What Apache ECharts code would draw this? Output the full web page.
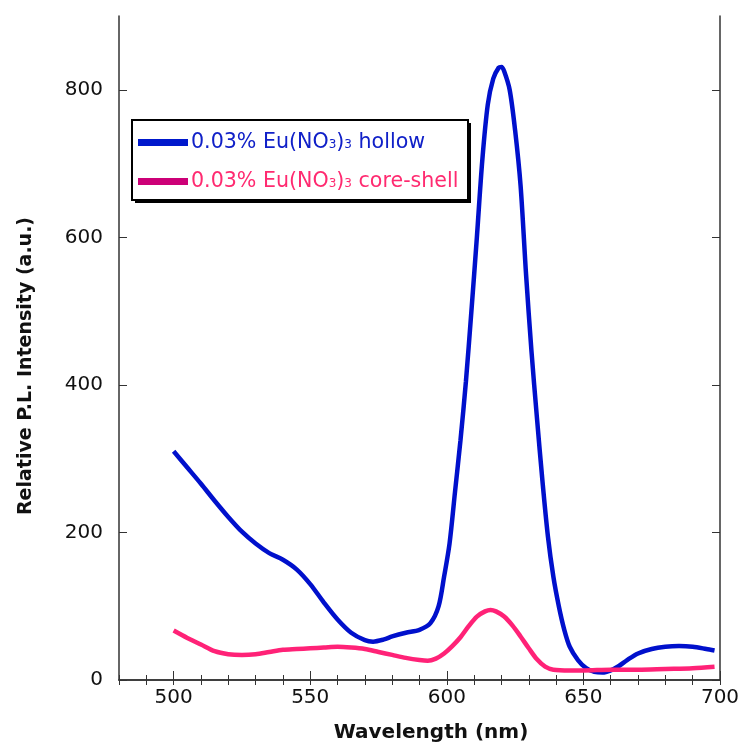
<!DOCTYPE html>
<html>
<head>
<meta charset="utf-8">
<script src="https://cdn.jsdelivr.net/npm/echarts@6/dist/echarts.min.js"></script>
<style>
  html, body { margin: 0; padding: 0; background: #fff; }
  #chart { width: 743px; height: 747px; }
</style>
</head>
<body>
<div id="chart"></div>
<script>
// Wavelength (nm) / intensity
const hollowX = [500, 505, 510, 515, 520, 525, 530, 535, 540, 545, 550, 555, 560, 565, 570, 573, 577, 580, 585, 590, 594, 597, 599, 601, 603, 605, 607, 609, 611, 613, 615, 617, 619, 620, 621, 623, 625, 627, 629, 631, 633, 635, 637, 639, 641, 643, 645, 648, 651, 654, 657, 660, 663, 666, 670, 675, 680, 685, 690, 695, 698]
const hollowY = [310, 288, 266, 243, 221, 201, 185, 172, 163, 150, 130, 105, 82, 64, 54, 52, 55, 59, 64, 68, 77, 100, 140, 185, 255, 325, 405, 500, 600, 705, 780, 815, 830, 831, 825, 800, 745, 670, 550, 445, 355, 270, 195, 140, 100, 68, 45, 27, 16, 11, 10, 13, 19, 27, 36, 42, 45, 46, 45, 42, 40]

const coreX = [500, 505, 510, 515, 520, 525, 530, 535, 540, 545, 550, 555, 560, 565, 570, 575, 580, 585, 590, 593, 596, 599, 602, 605, 608, 611, 614, 616, 618, 621, 624, 627, 630, 633, 636, 639, 645, 650, 660, 670, 680, 690, 698]
const coreY = [67, 57, 48, 39, 35, 34, 35, 38, 41, 42, 43, 44, 45, 44, 42, 38, 34, 30, 27, 26, 29, 36, 46, 58, 73, 86, 93, 95, 93, 86, 74, 59, 43, 28, 18, 14, 13, 13, 14, 14, 15, 16, 18]

const xLabelValues = [500, 550, 600, 650, 700]
const yLabelValues = [0, 200, 400, 600, 800]

const hollowName = '0.03% Eu(NO3)3 hollow'
const coreName = '0.03% Eu(NO3)3 core-shell'

const pairs = (xs, ys) => xs.map((x, i) => [x, ys[i]])

const axisColor = '#333'
const labelFont = { fontFamily: 'DejaVu Sans', fontSize: 20, color: '#111' }

const chart = echarts.init(document.getElementById('chart'))
chart.setOption({
  backgroundColor: '#fff',
  animation: false,
  grid: { left: 119, right: 23, top: 16, bottom: 67 },
  legend: {
    left: 132,
    top: 120,
    z: 10,
    orient: 'vertical',
    icon: 'rect',
    itemWidth: 50,
    itemHeight: 7,
    itemGap: 18,
    padding: [12, 8, 6, 6],
    textStyle: {
      fontFamily: 'DejaVu Sans',
      fontSize: 20.6,
      padding: [0, 0, 0, -2],
      rich: {
        s: { fontFamily: 'DejaVu Sans', fontSize: 12, verticalAlign: 'bottom', padding: [0, 0, 2, 0] }
      }
    },
    formatter: name => name.replace('NO3)3', 'NO{s|3}){s|3}'),
    data: [
      { name: hollowName, itemStyle: { color: '#0018cc' }, textStyle: { color: '#1020c8' } },
      { name: coreName, itemStyle: { color: '#cc0077' }, textStyle: { color: '#ff2a70' } }
    ]
  },
  xAxis: [
    {
      type: 'value', min: 480, max: 700, interval: 10,
      position: 'bottom',
      axisLine: { lineStyle: { color: axisColor, width: 1.5 } },
      axisTick: { inside: true, length: 5, lineStyle: { color: axisColor } },
      axisLabel: { customValues: xLabelValues, margin: 8, ...labelFont },
      splitLine: { show: false }
    },
    {
      type: 'value', min: 480, max: 700, interval: 10,
      position: 'top',
      axisLine: { lineStyle: { color: axisColor, width: 1.5 } },
      axisTick: { inside: true, length: 5, lineStyle: { color: axisColor } },
      axisLabel: { show: false },
      splitLine: { show: false }
    },
    {
      type: 'value', min: 480, max: 700,
      position: 'bottom',
      axisLine: { show: false },
      axisTick: { inside: true, length: 9, customValues: xLabelValues, lineStyle: { color: axisColor } },
      axisLabel: { show: false },
      splitLine: { show: false }
    }
  ],
  yAxis: [
    {
      type: 'value', min: 0, max: 900,
      position: 'left',
      axisLine: { show: true, lineStyle: { color: axisColor, width: 1.5 } },
      axisTick: { show: true, inside: true, length: 8, customValues: yLabelValues, lineStyle: { color: axisColor } },
      axisLabel: { customValues: yLabelValues, margin: 16, ...labelFont },
      splitLine: { show: false }
    },
    {
      type: 'value', min: 0, max: 900,
      position: 'right',
      axisLine: { show: true, lineStyle: { color: axisColor, width: 1.5 } },
      axisTick: { show: true, inside: true, length: 8, customValues: yLabelValues, lineStyle: { color: axisColor } },
      axisLabel: { show: false },
      splitLine: { show: false }
    }
  ],
  graphic: [
    // legend frame with its hard drop shadow
    {
      type: 'rect', z: 5,
      shape: { x: 135, y: 123, width: 336, height: 80 },
      style: { fill: '#000' }
    },
    {
      type: 'rect', z: 6,
      shape: { x: 132, y: 120, width: 336, height: 80 },
      style: { fill: '#fff', stroke: '#000', lineWidth: 2 }
    },
    {
      type: 'text', x: 431, y: 733,
      style: { text: 'Wavelength (nm)', font: 'bold 20px "DejaVu Sans"', fill: '#111', align: 'center', verticalAlign: 'middle' }
    },
    {
      type: 'text', x: 26, y: 366, rotation: Math.PI / 2,
      style: { text: 'Relative P.L. Intensity (a.u.)', font: 'bold 19px "DejaVu Sans"', fill: '#111', align: 'center', verticalAlign: 'middle' }
    }
  ],
  series: [
    {
      name: hollowName, type: 'line', smooth: 0.3, showSymbol: false,
      lineStyle: { color: '#0010cc', width: 4.5 },
      itemStyle: { color: '#0010cc' },
      data: pairs(hollowX, hollowY)
    },
    {
      name: coreName, type: 'line', smooth: 0.3, showSymbol: false,
      lineStyle: { color: '#ff2277', width: 4.5 },
      itemStyle: { color: '#ff2277' },
      data: pairs(coreX, coreY)
    }
  ]
})
</script>
</body>
</html>
